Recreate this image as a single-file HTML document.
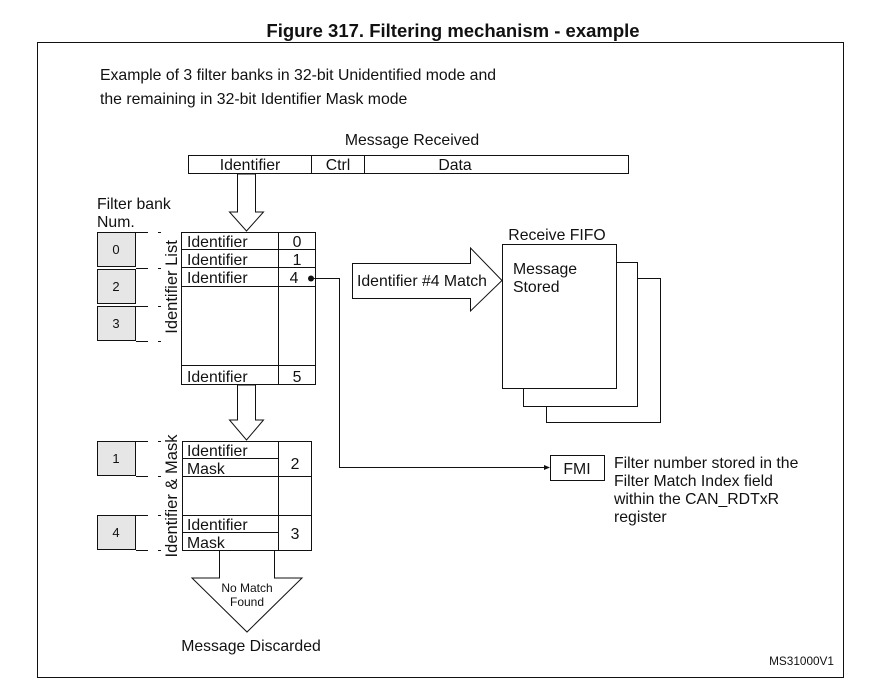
<!DOCTYPE html>
<html><head><meta charset="utf-8"><style>
body{margin:0;background:#fff}
svg text{font-family:"Liberation Sans",Arial,sans-serif;fill:#111}
</style></head><body>
<svg width="869" height="682" viewBox="0 0 869 682" xmlns="http://www.w3.org/2000/svg">
<g stroke="#111" stroke-width="1" fill="none">
<rect x="37.5" y="42.5" width="806" height="635"/>
<rect x="188.5" y="155.5" width="440" height="18"/>
<line x1="311.5" y1="155" x2="311.5" y2="174"/>
<line x1="364.5" y1="155" x2="364.5" y2="174"/>
<polygon points="237.5,174 255.5,174 255.5,212 263.5,212 246.5,231 229.5,212 237.5,212" fill="#fff"/>
<rect x="181.5" y="232.5" width="134" height="152" fill="#fff"/>
<line x1="278.5" y1="232" x2="278.5" y2="385"/>
<line x1="181" y1="249.5" x2="316" y2="249.5"/>
<line x1="181" y1="267.5" x2="316" y2="267.5"/>
<line x1="181" y1="286.5" x2="316" y2="286.5"/>
<line x1="181" y1="365.5" x2="316" y2="365.5"/>
<rect x="97.5" y="232.5" width="38" height="34" fill="#e6e6e6"/>
<rect x="97.5" y="269.5" width="38" height="34" fill="#e6e6e6"/>
<rect x="97.5" y="306.5" width="38" height="34" fill="#e6e6e6"/>
<rect x="97.5" y="441.5" width="38" height="34" fill="#e6e6e6"/>
<rect x="97.5" y="515.5" width="38" height="34" fill="#e6e6e6"/>
<g>
<line x1="136" y1="232.5" x2="148" y2="232.5"/><line x1="158" y1="232.5" x2="161" y2="232.5"/>
<line x1="136" y1="268.5" x2="148" y2="268.5"/><line x1="158" y1="268.5" x2="161" y2="268.5"/>
<line x1="136" y1="306.5" x2="148" y2="306.5"/><line x1="158" y1="306.5" x2="161" y2="306.5"/>
<line x1="136" y1="341.5" x2="148" y2="341.5"/><line x1="158" y1="341.5" x2="161" y2="341.5"/>
<line x1="136" y1="441.5" x2="148" y2="441.5"/><line x1="158" y1="441.5" x2="161" y2="441.5"/>
<line x1="136" y1="476.5" x2="148" y2="476.5"/><line x1="158" y1="476.5" x2="161" y2="476.5"/>
<line x1="136" y1="515.5" x2="148" y2="515.5"/><line x1="158" y1="515.5" x2="161" y2="515.5"/>
<line x1="136" y1="550.5" x2="148" y2="550.5"/><line x1="158" y1="550.5" x2="161" y2="550.5"/>
</g>
<polygon points="237.5,385 255.5,385 255.5,420 263.5,420 246.5,440 229.5,420 237.5,420" fill="#fff"/>
<rect x="182.5" y="441.5" width="129" height="109" fill="#fff"/>
<line x1="278.5" y1="441" x2="278.5" y2="551"/>
<line x1="182" y1="458.5" x2="278" y2="458.5"/>
<line x1="182" y1="476.5" x2="312" y2="476.5"/>
<line x1="182" y1="515.5" x2="312" y2="515.5"/>
<line x1="182" y1="532.5" x2="278" y2="532.5"/>
<polyline points="219.5,551 219.5,578 192,578 247,632 302,578 274.5,578 274.5,551" fill="#fff"/>
<polyline points="312,278.5 339.5,278.5 339.5,467.5 546,467.5"/>
<polygon points="352.5,263.5 470.5,263.5 470.5,248 502,280.5 470.5,311 470.5,298.5 352.5,298.5" fill="#fff"/>
<rect x="546.5" y="278.5" width="114" height="144" fill="#fff"/>
<rect x="523.5" y="262.5" width="114" height="144" fill="#fff"/>
<rect x="502.5" y="244.5" width="114" height="144" fill="#fff"/>
<rect x="550.5" y="455.5" width="54" height="25"/>
</g>
<circle cx="311" cy="278.5" r="3" fill="#111"/>
<polygon points="550,467.5 544,465 544,470" fill="#111"/>
<text x="453" y="37" font-size="18.5" font-weight="bold" text-anchor="middle">Figure 317. Filtering mechanism - example</text>
<g font-size="15.8">
<text x="100" y="80">Example of 3 filter banks in 32-bit Unidentified mode and</text>
<text x="100" y="104">the remaining in 32-bit Identifier Mask mode</text>
<text x="412" y="145" text-anchor="middle">Message Received</text>
<text x="250" y="170" text-anchor="middle">Identifier</text>
<text x="338" y="170" text-anchor="middle">Ctrl</text>
<text x="455" y="170" text-anchor="middle">Data</text>
<text x="97" y="209">Filter bank</text>
<text x="97" y="227">Num.</text>
<text x="187" y="247">Identifier</text>
<text x="187" y="265">Identifier</text>
<text x="187" y="283">Identifier</text>
<text x="187" y="382">Identifier</text>
<text x="297" y="247" text-anchor="middle">0</text>
<text x="297" y="265" text-anchor="middle">1</text>
<text x="294" y="283" text-anchor="middle">4</text>
<text x="297" y="382" text-anchor="middle">5</text>
<text transform="translate(177,287) rotate(-90)" text-anchor="middle" font-size="16.5">Identifier List</text>
<text transform="translate(177,496) rotate(-90)" text-anchor="middle" font-size="16.5">Identifier &amp; Mask</text>
<text x="187" y="456">Identifier</text>
<text x="187" y="474">Mask</text>
<text x="187" y="530">Identifier</text>
<text x="187" y="548">Mask</text>
<text x="295" y="469" text-anchor="middle">2</text>
<text x="295" y="539" text-anchor="middle">3</text>
<text x="251" y="651" text-anchor="middle">Message Discarded</text>
<text x="357" y="286">Identifier #4 Match</text>
<text x="557" y="240" text-anchor="middle">Receive FIFO</text>
<text x="513" y="274">Message</text>
<text x="513" y="292">Stored</text>
<text x="577" y="474" text-anchor="middle">FMI</text>
<text x="614" y="468">Filter number stored in the</text>
<text x="614" y="486">Filter Match Index field</text>
<text x="614" y="504">within the CAN_RDTxR</text>
<text x="614" y="522">register</text>
</g>
<g font-size="13">
<text x="116" y="254" text-anchor="middle">0</text>
<text x="116" y="291" text-anchor="middle">2</text>
<text x="116" y="328" text-anchor="middle">3</text>
<text x="116" y="463" text-anchor="middle">1</text>
<text x="116" y="537" text-anchor="middle">4</text>
<text x="247" y="592" text-anchor="middle" font-size="12">No Match</text>
<text x="247" y="606" text-anchor="middle" font-size="12">Found</text>
<text x="834" y="665" text-anchor="end" font-size="11.8">MS31000V1</text>
</g>
</svg>
</body></html>
